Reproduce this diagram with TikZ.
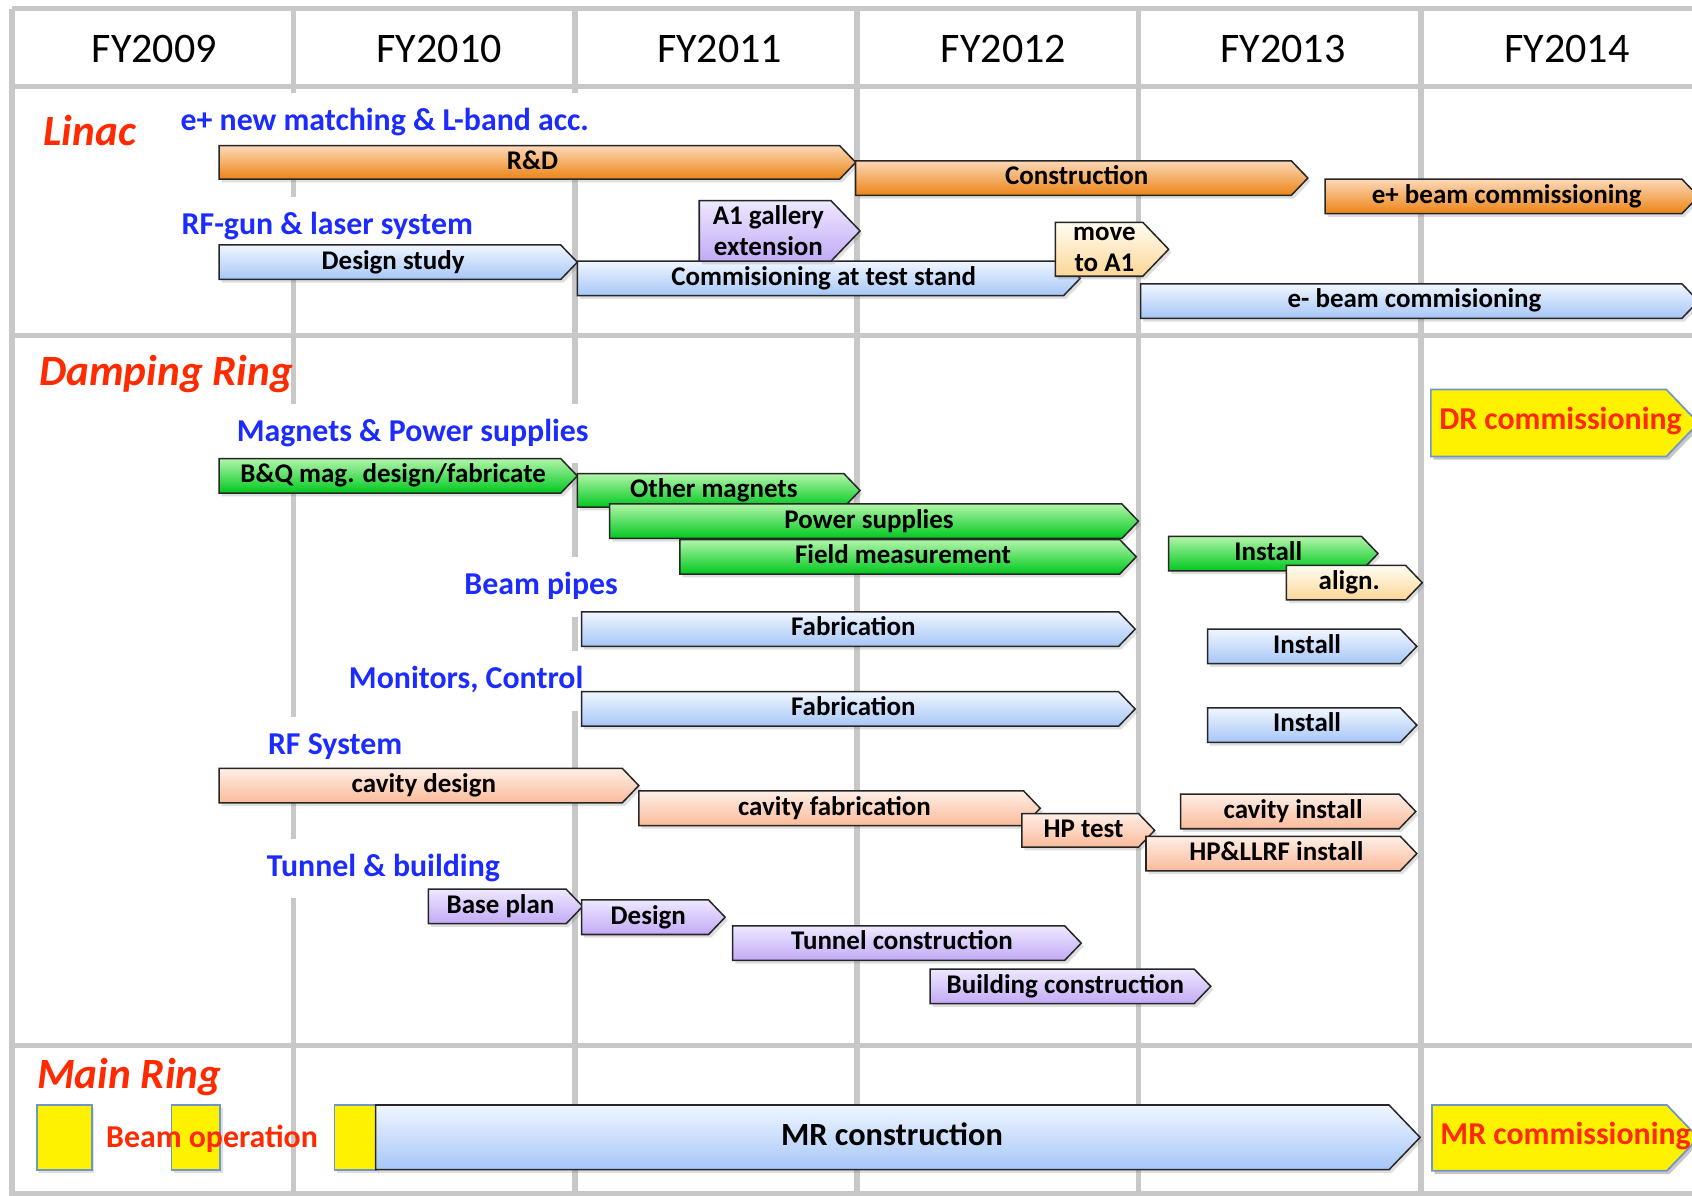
\documentclass[tikz,border=0pt]{standalone}
\usepackage{fontspec}
\setmainfont{Carlito}
\usetikzlibrary{shadows}
\definecolor{gridgray}{HTML}{C8C8C8}
\definecolor{orTop}{HTML}{FCD8B8}
\definecolor{orBot}{HTML}{EC8416}
\definecolor{blTop}{HTML}{F0F6FF}
\definecolor{blBot}{HTML}{A6C6F7}
\definecolor{grTop}{HTML}{B2F5AA}
\definecolor{grBot}{HTML}{00C81E}
\definecolor{puTop}{HTML}{EEE8FF}
\definecolor{puBot}{HTML}{C2AAF6}
\definecolor{peTop}{HTML}{FFEEE6}
\definecolor{peBot}{HTML}{FABB9A}
\definecolor{pyTop}{HTML}{FFFDF2}
\definecolor{pyBot}{HTML}{FCD696}
\definecolor{ybord}{HTML}{7096C8}
\definecolor{titlered}{HTML}{FF2A00}
\definecolor{lblblue}{HTML}{1C2CFF}
\tikzset{
  gridline/.style={draw=gridgray, line width=2.6pt},
  barbase/.style={draw=black!85, line width=0.7pt, line join=miter,
    drop shadow={shadow xshift=1.2pt, shadow yshift=-1.5pt, opacity=0.25}},
  orangebar/.style={top color=orTop, bottom color=orBot},
  bluebar/.style={top color=blTop, bottom color=blBot},
  greenbar/.style={top color=grTop, bottom color=grBot},
  purplebar/.style={top color=puTop, bottom color=puBot},
  peachbar/.style={top color=peTop, bottom color=peBot},
  paleybar/.style={top color=pyTop, bottom color=pyBot},
  ybox/.style={fill=yellow, draw=ybord, line width=0.8pt,
    drop shadow={shadow xshift=1.2pt, shadow yshift=-1.5pt, opacity=0.25}},
  barlbl/.style={font=\bfseries\fontsize{12.5}{14.5}\selectfont, text=black,
    inner sep=0pt, text height=9.4pt, text depth=3.1pt},
  twoline/.style={text height={}, text depth={}, align=center},
  redlbl/.style={font=\bfseries\fontsize{14.75}{17}\selectfont, text=titlered},
  hdr/.style={font=\fontsize{19.5}{23}\selectfont, inner sep=0pt},
  sublbl/.style={font=\bfseries\fontsize{14.75}{17}\selectfont, text=lblblue,
    fill=white, inner xsep=0pt, inner ysep=6.4pt, text height=11pt,
    text depth=3.7pt, anchor=west},
  sectitle/.style={font=\bfseries\itshape\fontsize{20}{24}\selectfont,
    text=titlered, inner sep=0pt, text height=15pt, text depth=5pt, anchor=west},
}
% #1 bar style, #2 label options, #3 name, #4 left x, #5 tip x, #6 top y, #7 bottom y, #8 text
\newcommand\gbar[8]{%
  \pgfmathsetmacro\gbD{0.48*(#7-#6)}%
  \pgfmathsetmacro\gbM{(#6+#7)/2}%
  \pgfmathsetmacro\gbR{#5-\gbD}%
  \pgfmathsetmacro\gbC{(#4+\gbR)/2+3}%
  \path[barbase,#1] (#4,#6) -- (\gbR,#6) -- (#5,\gbM) -- (\gbR,#7) -- (#4,#7) -- cycle;
  \node[barlbl,#2] (#3) at (\gbC,\gbM) {#8};
}
\begin{document}
\begin{tikzpicture}[x=0.5pt,y=-0.5pt]
\useasboundingbox (0,0) rectangle (1568,1108);
\fill[white] (0,0) rectangle (1568,1108);
% grid
\foreach \gx in {11,272,533,794,1055,1317}
  \draw[gridline] (\gx,8) -- (\gx,1108);
\foreach \gy in {8,80,311,969,1106}
  \draw[gridline] (11,\gy) -- (1568,\gy);
% header
\node[hdr] (fy09) at (143,45) {FY2009};
\node[hdr] (fy10) at (407,45) {FY2010};
\node[hdr] (fy11) at (667,45) {FY2011};
\node[hdr] (fy12) at (930,45) {FY2012};
\node[hdr] (fy13) at (1189,45) {FY2013};
\node[hdr] (fy14) at (1452,45) {FY2014};
% section titles
\node[sectitle] (linac) at (40,125) {Linac};
\node[sectitle] (dring) at (36,347) {Damping Ring};
\node[sectitle] (mring) at (34,999) {Main Ring};
% group labels
\node[sublbl] (gpos) at (167,114) {e+ new matching \& L-band acc.};
\node[sublbl] (grfg) at (168,210) {RF-gun \& laser system};
\node[sublbl] (gmag) at (219,402) {Magnets \& Power supplies};
\node[sublbl] (gbp) at (430,544) {Beam pipes};
\node[sublbl] (gmon) at (323,631) {Monitors, Control};
\node[sublbl] (grf) at (248,692) {RF System};
\node[sublbl] (gtun) at (247,805) {Tunnel \& building};
% Linac bars
\gbar{orangebar}{}{rd}{203}{793}{135}{166}{R\&D}
\gbar{orangebar}{}{cons}{793}{1212}{149}{181}{Construction}
\gbar{orangebar}{}{epc}{1228}{1574}{166}{198}{e+ beam commissioning}
\gbar{bluebar}{}{ds}{203}{535}{227}{259}{Design study}
\gbar{bluebar}{}{cts}{535}{1001}{242}{274}{Commisioning at test stand}
\gbar{purplebar}{twoline}{a1}{648}{797}{186}{242}{A1 gallery\\extension}
\gbar{paleybar}{twoline,xshift=1pt}{mv}{978}{1083}{206}{256}{move\\to A1}
\gbar{bluebar}{}{emc}{1057}{1574}{263}{295}{e- beam commisioning}
% Damping ring bars
\gbar{ybox}{redlbl,xshift=4pt}{drc}{1326}{1574}{361}{423}{DR commissioning}
\gbar{greenbar}{}{bq}{203}{535}{425}{457}{B\&Q mag. design/fabricate}
\gbar{greenbar}{}{om}{535}{797}{439}{470}{Other magnets}
\gbar{greenbar}{}{ps}{565}{1055}{467}{499}{Power supplies}
\gbar{greenbar}{}{fm}{630}{1053}{500}{532}{Field measurement}
\gbar{greenbar}{}{gi}{1083}{1277}{497}{529}{Install}
\gbar{paleybar}{}{al}{1192}{1318}{524}{556}{align.}
\gbar{bluebar}{}{bpf}{539}{1052}{567}{599}{Fabrication}
\gbar{bluebar}{}{bpi}{1119}{1313}{583}{615}{Install}
\gbar{bluebar}{}{mcf}{539}{1052}{641}{673}{Fabrication}
\gbar{bluebar}{}{mci}{1119}{1313}{656}{688}{Install}
\gbar{peachbar}{}{cd}{203}{592}{712}{744}{cavity design}
\gbar{peachbar}{}{cf}{592}{964}{733}{765}{cavity fabrication}
\gbar{peachbar}{}{hp}{947}{1070}{754}{785}{HP test}
\gbar{peachbar}{}{ci}{1094}{1312}{736}{768}{cavity install}
\gbar{peachbar}{}{hpl}{1062}{1313}{775}{807}{HP\&LLRF install}
\gbar{purplebar}{}{bpl}{397}{540}{824}{856}{Base plan}
\gbar{purplebar}{}{dsg}{539}{672}{834}{866}{Design}
\gbar{purplebar}{}{tc}{679}{1002}{858}{890}{Tunnel construction}
\gbar{purplebar}{}{bc}{862}{1122}{898}{930}{Building construction}
% Main ring
\path[ybox] (34,1024) rectangle (85,1084);
\path[ybox] (159,1024) rectangle (204,1084);
\path[ybox] (310,1024) rectangle (349,1084);
\gbar{bluebar}{font=\bfseries\fontsize{15}{18}\selectfont,text height=11.2pt,text depth=3.8pt,xshift=3pt}{mrcons}{348}{1316}{1024}{1084}{MR construction}
\gbar{ybox}{redlbl,xshift=6pt}{mrcom}{1327}{1574}{1024}{1085}{MR commissioning}
\node[redlbl, anchor=west, inner sep=0pt, text height=11pt, text depth=3.7pt] (beamop) at (98,1056) {Beam operation};
\end{tikzpicture}
\end{document}
